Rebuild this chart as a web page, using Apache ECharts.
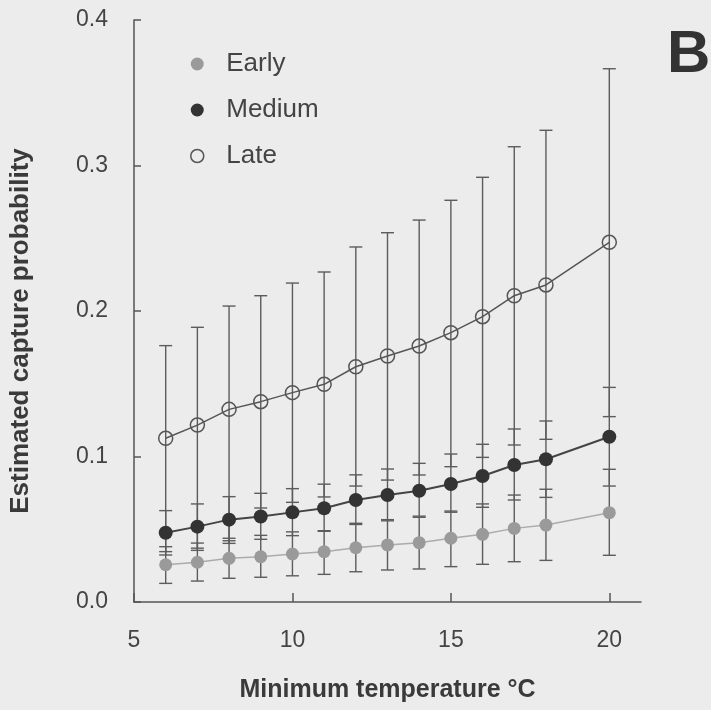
<!DOCTYPE html>
<html>
<head>
<meta charset="utf-8">
<script src="https://cdn.jsdelivr.net/npm/echarts@6/dist/echarts.min.js"></script>
<style>
html,body{margin:0;padding:0;background:#ececec;}
#chart{width:711px;height:710px;}
</style>
</head>
<body>
<div id="chart"></div>
<script>
const xValues = [6, 7, 8, 9, 10, 11, 12, 13, 14, 15, 16, 17, 18, 20];

const earlyMean = [0.0256, 0.0273, 0.0300, 0.0311, 0.0330, 0.0346, 0.0373, 0.0392, 0.0408, 0.0438, 0.0465, 0.0506, 0.0529, 0.0614];
const earlyLow  = [0.0128, 0.0144, 0.0163, 0.0170, 0.0180, 0.0190, 0.0208, 0.0220, 0.0227, 0.0243, 0.0259, 0.0277, 0.0286, 0.0321];
const earlyHigh = [0.0380, 0.0405, 0.0438, 0.0458, 0.0482, 0.0490, 0.0541, 0.0566, 0.0590, 0.0625, 0.0674, 0.0735, 0.0775, 0.0912];

const mediumMean = [0.0476, 0.0518, 0.0566, 0.0588, 0.0616, 0.0644, 0.0701, 0.0735, 0.0765, 0.0811, 0.0866, 0.0942, 0.0981, 0.1136];
const mediumLow  = [0.0346, 0.0370, 0.0421, 0.0431, 0.0456, 0.0486, 0.0533, 0.0558, 0.0582, 0.0617, 0.0651, 0.0701, 0.0719, 0.0797];
const mediumHigh = [0.0628, 0.0674, 0.0724, 0.0747, 0.0779, 0.0810, 0.0874, 0.0914, 0.0953, 0.1017, 0.1084, 0.1189, 0.1244, 0.1475];

const lateMean = [0.1125, 0.1216, 0.1324, 0.1377, 0.1439, 0.1496, 0.1617, 0.1691, 0.1759, 0.1851, 0.1961, 0.2105, 0.2179, 0.2472];
const lateLow  = [0.0323, 0.0355, 0.0403, 0.0646, 0.0685, 0.0722, 0.0797, 0.0838, 0.0873, 0.0930, 0.0994, 0.1079, 0.1118, 0.1274];
const lateHigh = [0.1762, 0.1888, 0.2034, 0.2105, 0.2192, 0.2268, 0.2440, 0.2538, 0.2625, 0.2761, 0.2919, 0.3129, 0.3242, 0.3665];

const xTickLabels = [5, 10, 15, 20];
const seriesNames = ['Early', 'Medium', 'Late'];

const FONT = 'Liberation Sans, Arial, Helvetica, sans-serif';

function pairs(vals) { return xValues.map((x, i) => [x, vals[i]]); }

function errSeries(name, low, high) {
  return {
    type: 'custom',
    name: name,
    silent: true,
    z: 1,
    data: xValues.map((x, i) => [x, low[i], high[i]]),
    encode: { x: 0, y: [1, 2] },
    renderItem: function (params, api) {
      const x = api.value(0);
      const lo = api.coord([x, api.value(1)]);
      const hi = api.coord([x, api.value(2)]);
      const hw = 6.5;
      const st = { stroke: '#5c5c5c', lineWidth: 1.4 };
      return {
        type: 'group',
        children: [
          { type: 'line', shape: { x1: lo[0], y1: lo[1], x2: hi[0], y2: hi[1] }, style: st },
          { type: 'line', shape: { x1: lo[0] - hw, y1: lo[1], x2: lo[0] + hw, y2: lo[1] }, style: st },
          { type: 'line', shape: { x1: hi[0] - hw, y1: hi[1], x2: hi[0] + hw, y2: hi[1] }, style: st }
        ]
      };
    }
  };
}

const chart = echarts.init(document.getElementById('chart'));
chart.setOption({
  backgroundColor: '#ececec',
  animation: false,
  textStyle: { fontFamily: FONT },
  grid: { left: 134, right: 70, top: 20, bottom: 108, containLabel: false, outerBoundsMode: 'none' },
  legend: {
    orient: 'vertical',
    left: 185,
    top: 44,
    itemWidth: 48,
    itemHeight: 13,
    itemGap: 16,
    symbolKeepAspect: true,
    textStyle: { fontSize: 26, color: '#444', lineHeight: 30, fontFamily: FONT },
    data: [
      { name: seriesNames[0], icon: 'circle', itemStyle: { color: '#9a9a9a', borderWidth: 0 } },
      { name: seriesNames[1], icon: 'circle', itemStyle: { color: '#333333', borderWidth: 0 } },
      { name: seriesNames[2], icon: 'circle', itemStyle: { color: 'rgba(0,0,0,0)', borderColor: '#555', borderWidth: 1.5 } }
    ]
  },
  graphic: [
    { type: 'text', left: 667, top: 25, style: { text: 'B', font: 'bold 60px ' + FONT, fill: '#333' } }
  ],
  xAxis: {
    type: 'value',
    min: 5, max: 21, interval: 5,
    name: 'Minimum temperature °C',
    nameLocation: 'middle',
    nameGap: 76,
    nameTextStyle: { fontSize: 25, fontWeight: 'bold', color: '#3a3a3a', fontFamily: FONT },
    axisLine: { show: true, lineStyle: { color: '#555', width: 1.5 } },
    axisTick: { show: true, inside: true, length: 9, lineStyle: { color: '#555', width: 1.5 }, customValues: xTickLabels },
    axisLabel: { fontSize: 23, color: '#444', margin: 27, customValues: xTickLabels },
    splitLine: { show: false }
  },
  yAxis: {
    type: 'value',
    min: 0, max: 0.4, interval: 0.1,
    name: 'Estimated capture probability',
    nameLocation: 'middle',
    nameGap: 100,
    nameRotate: 90,
    nameTextStyle: { fontSize: 26, fontWeight: 'bold', color: '#3a3a3a', fontFamily: FONT, padding: [0, 40, 0, 0] },
    axisLine: { show: true, lineStyle: { color: '#555', width: 1.5 } },
    axisTick: { show: true, inside: true, length: 7, lineStyle: { color: '#555', width: 1.5 } },
    axisLabel: { fontSize: 23, color: '#444', margin: 26, formatter: v => v.toFixed(1) },
    splitLine: { show: false }
  },
  series: [
    errSeries('Early CI', earlyLow, earlyHigh),
    errSeries('Medium CI', mediumLow, mediumHigh),
    errSeries('Late CI', lateLow, lateHigh),
    {
      type: 'line', name: seriesNames[0], z: 3,
      data: pairs(earlyMean),
      symbol: 'circle', symbolSize: 13,
      itemStyle: { color: '#9a9a9a' },
      lineStyle: { color: '#ababab', width: 1.5 }
    },
    {
      type: 'line', name: seriesNames[1], z: 4,
      data: pairs(mediumMean),
      symbol: 'circle', symbolSize: 14,
      itemStyle: { color: '#333333' },
      lineStyle: { color: '#444', width: 2 }
    },
    {
      type: 'line', name: seriesNames[2], z: 5,
      data: pairs(lateMean),
      symbol: 'circle', symbolSize: 14,
      itemStyle: { color: 'rgba(0,0,0,0)', borderColor: '#555', borderWidth: 1.5 },
      lineStyle: { color: '#555', width: 1.5 }
    }
  ]
});
</script>
</body>
</html>
